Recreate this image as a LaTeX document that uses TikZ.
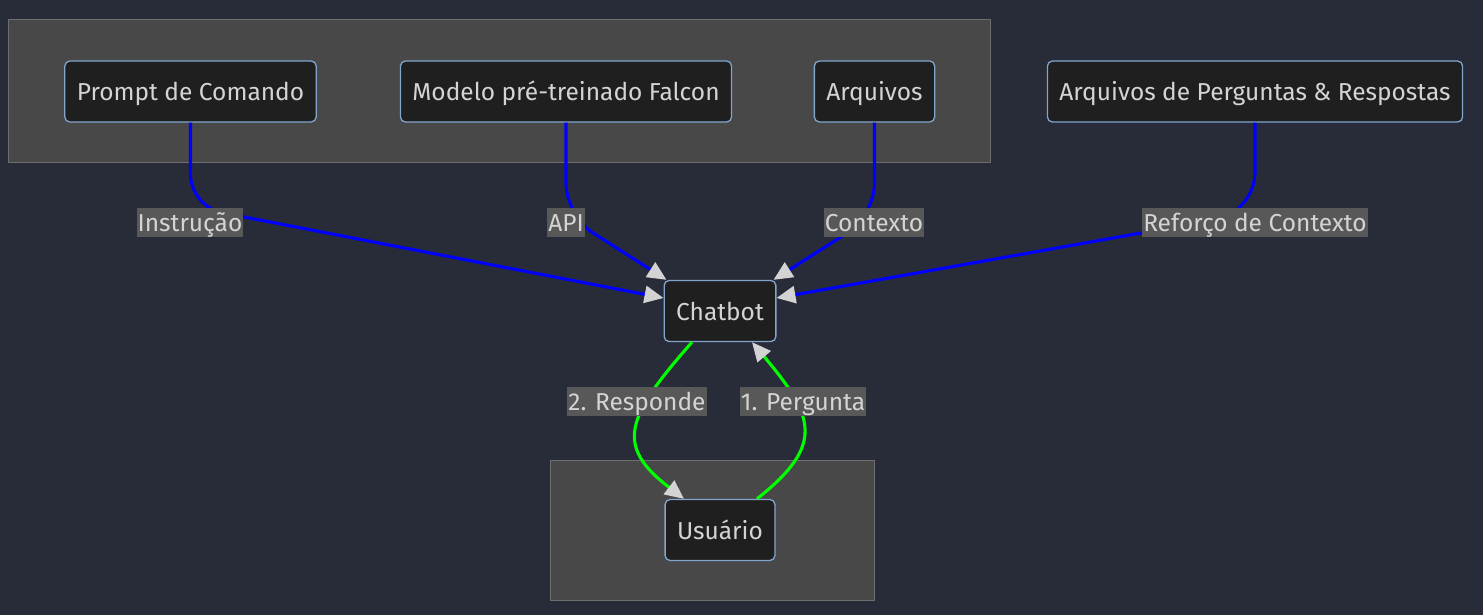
\documentclass[tikz,border=0pt]{standalone}
\usepackage{fontspec}
\setmainfont{Fira Sans}
\usetikzlibrary{arrows.meta, positioning}

\definecolor{bgcolor}{RGB}{40,44,57}
\definecolor{clusterfill}{RGB}{72,72,72}
\definecolor{clusterborder}{RGB}{110,110,110}
\definecolor{boxfill}{RGB}{31,31,31}
\definecolor{boxborder}{RGB}{129,165,205}
\definecolor{textgray}{RGB}{212,212,212}
\definecolor{lblfill}{RGB}{88,88,88}
\definecolor{tipgray}{RGB}{211,211,211}
\definecolor{linkblue}{RGB}{0,0,255}
\definecolor{linkgreen}{RGB}{0,255,0}

\begin{document}
\begin{tikzpicture}[x=1pt, y=-1pt,
    every node/.style={font=\fontsize{24.5}{28}\selectfont, text=textgray,
        text height=20pt, text depth=2pt},
    box/.style={draw=boxborder, line width=1.3pt, fill=boxfill, rounded corners=5pt,
        minimum height=61pt, inner xsep=12pt},
    cluster/.style={draw=clusterborder, line width=1pt, fill=clusterfill},
    lbl/.style={fill=lblfill, inner xsep=1pt, inner ysep=0pt, minimum height=29pt},
    bluelink/.style={draw=linkblue, line width=3.1pt,
        -{Triangle[length=19pt, width=17pt, color=tipgray]}},
    greenlink/.style={draw=linkgreen, line width=3.1pt,
        -{Triangle[length=19pt, width=17pt, color=tipgray]}}]

    % Background and frame
    \fill[bgcolor] (0,0) rectangle (1483,615);
    \useasboundingbox (0,0) rectangle (1483,615);

    % Groups
    \path[cluster] (8,20) rectangle (990,162);
    \path[cluster] (550,460) rectangle (874,600);

    % Nodes
    \node[box] (prompt) at (190.5,91.5) {Prompt de Comando};
    \node[box] (falcon) at (566,91.5) {Modelo pré-treinado Falcon};
    \node[box] (arquivos) at (874.5,91.5) {Arquivos};
    \node[box] (perguntas) at (1255,91.5) {Arquivos de Perguntas \& Respostas};
    \node[box] (chatbot) at (720,311) {Chatbot};
    \node[box] (usuario) at (720,530) {Usuário};

    % Links into the chatbot
    \draw[bluelink, rounded corners=32pt] (prompt.south) -- ++(0,84) -- ([yshift=13pt]chatbot.west);
    \draw[bluelink, rounded corners=32pt] (falcon.south) -- ++(0,93) -- ([xshift=3pt]chatbot.north west);
    \draw[bluelink, rounded corners=32pt] (arquivos.south) -- ++(0,93) -- ([xshift=-3pt]chatbot.north east);
    \draw[bluelink, rounded corners=40pt] (perguntas.south) -- ++(0,90) -- ([yshift=13pt]chatbot.east);

    % Question and answer loop
    \draw[greenlink] ([xshift=-28pt]chatbot.south) .. controls +(-67,76) and +(-69,-53) .. ([xshift=-36pt]usuario.north);
    \draw[greenlink] ([xshift=37pt]usuario.north) .. controls +(68,-54) and +(63,75) .. ([xshift=32pt]chatbot.south);

    % Link labels
    \node[lbl] (lblInstrucao) at (190,222) {Instrução};
    \node[lbl] (lblApi) at (566,222) {API};
    \node[lbl] (lblContexto) at (874,222) {Contexto};
    \node[lbl] (lblReforco) at (1255,222) {Reforço de Contexto};
    \node[lbl] (lblResponde) at (637,401) {2. Responde};
    \node[lbl] (lblPergunta) at (803,401) {1. Pergunta};
\end{tikzpicture}
\end{document}
